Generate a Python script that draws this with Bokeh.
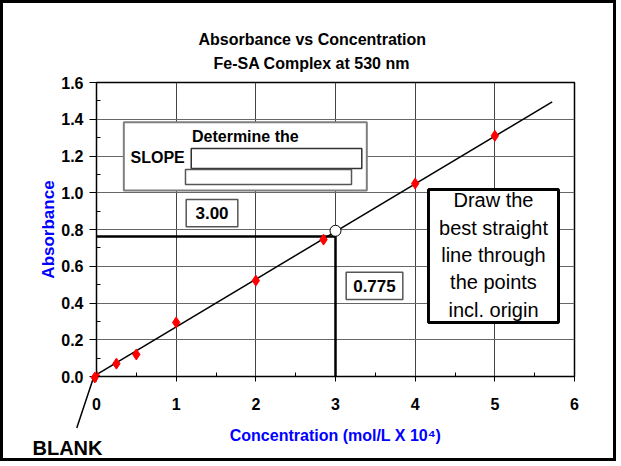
from bokeh.plotting import figure
from bokeh.models import Range1d, FixedTicker, NumeralTickFormatter, Title
from bokeh.layouts import column
from bokeh.embed import file_html
from bokeh.resources import INLINE
from bokeh.core.properties import value

# ---- data ----
conc = [0.0, 0.25, 0.5, 1.0, 2.0, 2.85, 4.0, 5.0]
absorb = [0.0, 0.07, 0.12, 0.294, 0.522, 0.745, 1.05, 1.31]

fit_x = [0.0, 5.72]
fit_y = [0.01, 1.495]

blank_x = [-0.43, -0.03]
blank_y = [-0.275, 0.0]

read_x = [0.0, 3.0, 3.0]
read_y = [0.762, 0.762, 0.0]

mark_x = [3.0]
mark_y = [0.793]

x_ticks = [0, 1, 2, 3, 4, 5, 6]
y_ticks = [0.0, 0.2, 0.4, 0.6, 0.8, 1.0, 1.2, 1.4, 1.6]

title_line1 = "Absorbance vs Concentration"
title_line2 = "Fe-SA Complex at 530 nm"
x_label = "Concentration (mol/L X 10\u2074)"
y_label = "Absorbance"
slope_label = "3.00"
value_label = "0.775"
note_text = "Draw the\nbest straight\nline through\nthe points\nincl. origin"
blank_text = "BLANK"

FONT = "Liberation Sans"

p = figure(width=616, height=461, x_range=Range1d(0, 6), y_range=Range1d(0, 1.6),
           output_backend="svg", toolbar_location=None,
           min_border_left=93, min_border_right=45, min_border_top=79, min_border_bottom=88)
p.styles = {"border": "3px solid black"}

p.title.text = title_line1
p.title.text_font = FONT
p.title.text_font_size = "16px"
p.title.text_font_style = "bold"
p.title.text_color = "black"
p.title.align = "left"
p.title.offset = 102
p.title.standoff = -12

sub = Title(text=title_line2, text_font=FONT, text_font_size="16px", text_font_style="bold",
            text_color="black", align="left", offset=117, standoff=22)
p.add_layout(sub, "above")

p.outline_line_color = "black"
p.outline_line_width = 1.5
p.background_fill_color = "white"
p.border_fill_color = "white"

x_minor = [t + 0.5 for t in x_ticks[:-1]]
y_minor = [round(t + 0.1, 2) for t in y_ticks[:-1]]
p.xaxis.ticker = FixedTicker(ticks=x_ticks, minor_ticks=x_minor)
p.yaxis.ticker = FixedTicker(ticks=y_ticks, minor_ticks=y_minor)
p.yaxis.formatter = NumeralTickFormatter(format="0.0")
p.xgrid.ticker = FixedTicker(ticks=x_ticks)
p.ygrid.ticker = FixedTicker(ticks=y_ticks)
p.xgrid.grid_line_color = "#444444"
p.ygrid.grid_line_color = "#666666"
p.xgrid.grid_line_width = 1
p.ygrid.grid_line_width = 1

for ax in (p.xaxis, p.yaxis):
    ax.axis_line_color = "black"
    ax.major_tick_line_color = "black"
    ax.minor_tick_line_color = "black"
    ax.major_tick_in = 0
    ax.minor_tick_in = 4
    ax.minor_tick_out = 0
    ax.major_label_text_font = FONT
    ax.major_label_text_font_size = "16px"
    ax.major_label_text_font_style = "bold"
    ax.major_label_text_color = "black"
    ax.axis_label_text_font = FONT
    ax.axis_label_text_font_style = "bold"
    ax.axis_label_text_color = "#0000ff"

p.xaxis.major_tick_out = 5
p.yaxis.major_tick_out = 7
p.xaxis.major_label_standoff = 16
p.yaxis.major_label_standoff = 6
p.xaxis.axis_label = x_label
p.yaxis.axis_label = y_label
p.xaxis.axis_label_text_font_size = "16px"
p.yaxis.axis_label_text_font_size = "17px"
p.xaxis.axis_label_standoff = 14
p.yaxis.axis_label_standoff = 0

# "BLANK" caption, below the axis, left of the frame
blank_title = Title(text=blank_text, text_font=FONT, text_font_size="20px", text_font_style="bold",
                    text_color="black", align="left", offset=-64, standoff=-24)
p.add_layout(blank_title, "below")

# boxes
p.quad(left=[0.343], right=[3.393], top=[1.384], bottom=[1.012],
       fill_color="white", line_color="#7f7f7f", line_width=2)
p.quad(left=[1.189], right=[3.330], top=[1.241], bottom=[1.132],
       fill_color="white", line_color="#333333", line_width=1.5)
p.quad(left=[1.117], right=[3.201], top=[1.127], bottom=[1.045],
       fill_color="white", line_color="#555555", line_width=1.5)
p.quad(left=[1.126], right=[1.774], top=[0.963], bottom=[0.815],
       fill_color="white", line_color="#555555", line_width=1.5)
p.quad(left=[3.134], right=[3.845], top=[0.568], bottom=[0.419],
       fill_color="white", line_color="#555555", line_width=1.5)
p.quad(left=[4.167], right=[5.799], top=[1.018], bottom=[0.294],
       fill_color="white", line_color="black", line_width=3)

p.text(x=[1.868], y=[1.3045], text=["Determine the"], text_font=value(FONT),
       text_font_size="16px", text_font_style="bold", text_align="center",
       text_baseline="middle", text_color="black")
p.text(x=[0.427], y=[1.193], text=["SLOPE"], text_font=value(FONT),
       text_font_size="16px", text_font_style="bold", text_align="left",
       text_baseline="middle", text_color="black")
p.text(x=[1.45], y=[0.889], text=[slope_label], text_font=value(FONT),
       text_font_size="17px", text_font_style="bold", text_align="center",
       text_baseline="middle", text_color="black")
p.text(x=[3.489], y=[0.494], text=[value_label], text_font=value(FONT),
       text_font_size="17px", text_font_style="bold", text_align="center",
       text_baseline="middle", text_color="black")
p.text(x=[4.983], y=[0.661], text=[note_text], text_font=value(FONT),
       text_font_size="20px", text_align="center", text_line_height=1.24,
       text_baseline="middle", text_color="black")

# lines and points
p.line(fit_x, fit_y, line_color="black", line_width=1.5)
p.line(read_x, read_y, line_color="black", line_width=2.5)
p.scatter(conc, absorb, marker="diamond", size=11, fill_color="red", line_color="red")
p.scatter(mark_x, mark_y, marker="circle", size=11, fill_color="white",
          line_color="black", line_width=1)

# transparent overlay (same data scale) for the BLANK pointer below-left of the frame
q = figure(width=99, height=90, x_range=Range1d(-0.841, 0.0879), y_range=Range1d(-0.4571, 0.03265),
           output_backend="svg", toolbar_location=None,
           x_axis_location=None, y_axis_location=None,
           min_border_left=0, min_border_right=0, min_border_top=0, min_border_bottom=0)
q.grid.visible = False
q.outline_line_color = None
q.background_fill_alpha = 0
q.border_fill_alpha = 0
q.styles = {"position": "absolute", "left": "5px", "top": "371px"}
q.line(blank_x, blank_y, line_color="black", line_width=1.5)
q.scatter(conc[:1], absorb[:1], marker="diamond", size=11, fill_color="red", line_color="red")

layout = column(p, q, styles={"position": "relative"})

open("out.html", "w").write(file_html(layout, INLINE))
